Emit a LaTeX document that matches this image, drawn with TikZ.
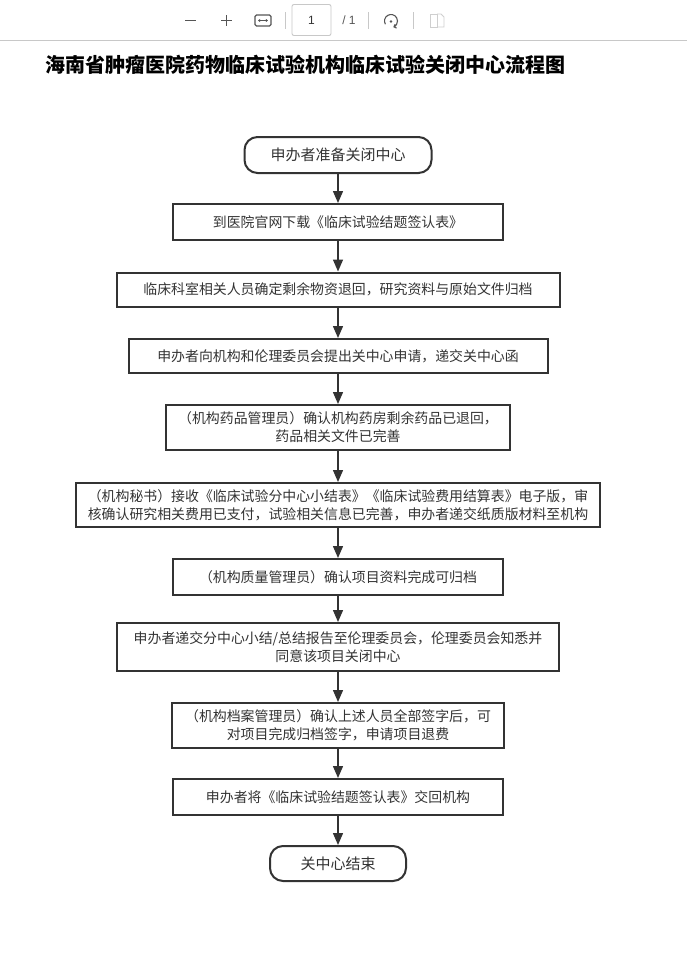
\documentclass[tikz,border=0pt]{standalone}
\usepackage{fontspec}
\newfontfamily\cjk{Noto Sans CJK SC}
\newfontfamily\ui{Liberation Sans}
\usetikzlibrary{arrows.meta}
\definecolor{ink}{HTML}{333333}
\definecolor{tbink}{HTML}{555555}
\definecolor{tbline}{HTML}{C8C8C8}
\definecolor{tbfaint}{HTML}{CFCFCF}
\begin{document}
\begin{tikzpicture}[x=1pt,y=-1pt,
  stepbox/.style={draw=ink, line width=2pt, fill=white, inner sep=0pt, align=center,
    font=\cjk\fontsize{13.9}{17.8}\selectfont, text=ink},
  termbox/.style={stepbox, rounded corners=13pt, font=\cjk\fontsize{15}{18}\selectfont},
  flow/.style={draw=ink, line width=1.4pt, -{Triangle[length=12pt,width=10pt]}},
  tb/.style={draw=tbink, line width=1.1pt},
  tbsep/.style={draw=tbline, line width=0.8pt}]
\useasboundingbox (0,0) rectangle (687,962);
\fill[white] (0,0) rectangle (687,962);

% ---- viewer toolbar ----
\draw[tbline, line width=1pt] (0,40.5) -- (687,40.5);
\draw[tb] (185,20.5) -- (196,20.5);
\draw[tb] (221,20.5) -- (232,20.5) (226.5,15) -- (226.5,26);
\draw[tb, rounded corners=1.5pt] (255,15) rectangle (271,26);
\draw[tbink, line width=0.8pt, {Triangle[length=2.2pt,width=3pt]}-{Triangle[length=2.2pt,width=3pt]}] (258,20.5) -- (268,20.5);
\draw[tbsep] (285,12) -- (285,29);
\draw[tbline, line width=0.9pt, rounded corners=2pt] (292,4.5) rectangle (331,35.5);
\node[font=\ui\fontsize{12}{12}\selectfont, text=ink, inner sep=0] (pg) at (311.5,20.5) {1};
\node[font=\ui\fontsize{12}{12}\selectfont, text=tbink, inner sep=0] (pgtot) at (349,20.5) {/ 1};
\draw[tbsep] (368,12) -- (368,29);
\draw[tb, -{Straight Barb[length=2pt,width=4pt]}] (391,21) ++(150:6.5) arc[start angle=150, end angle=430, radius=6.5];
\fill[tbink] (391,21.5) circle (1.4);
\draw[tbsep] (413,12) -- (413,29);
\draw[tbfaint, line width=0.9pt] (430,14) rectangle (437,27);
\draw[tbfaint, line width=0.9pt] (437,14) -- (441,14) -- (444,17) -- (444,27) -- (437,27);

% ---- title ----
\node[anchor=west, inner sep=0, font=\cjk\bfseries\fontsize{20}{20}\selectfont, text=black] (title) at (45,65)
  {海南省肿瘤医院药物临床试验机构临床试验关闭中心流程图};

% ---- flow ----
\node[termbox, minimum width=187pt, minimum height=36pt] (s) at (338,155) {申办者准备关闭中心};
\node[stepbox, minimum width=330pt, minimum height=36pt] (b2) at (338,222) {到医院官网下载《临床试验结题签认表》};
\node[stepbox, minimum width=443pt, minimum height=34pt] (b3) at (338,289.5) {临床科室相关人员确定剩余物资退回，研究资料与原始文件归档};
\node[stepbox, minimum width=419pt, minimum height=34pt] (b4) at (338,356) {申办者向机构和伦理委员会提出关中心申请，递交关中心函};
\node[stepbox, minimum width=344pt, minimum height=45pt] (b5) at (338,427.5) {（机构药品管理员）确认机构药房剩余药品已退回，\\药品相关文件已完善};
\node[stepbox, minimum width=524pt, minimum height=44pt] (b6) at (338,505) {（机构秘书）接收《临床试验分中心小结表》《临床试验费用结算表》电子版，审\\核确认研究相关费用已支付，试验相关信息已完善，申办者递交纸质版材料至机构};
\node[stepbox, minimum width=330pt, minimum height=36pt] (b7) at (338,577) {（机构质量管理员）确认项目资料完成可归档};
\node[stepbox, minimum width=442pt, minimum height=48pt] (b8) at (338,647) {申办者递交分中心小结/总结报告至伦理委员会，伦理委员会知悉并\\同意该项目关闭中心};
\node[stepbox, minimum width=332pt, minimum height=45pt] (b9) at (338,725.5) {（机构档案管理员）确认上述人员全部签字后，可\\对项目完成归档签字，申请项目退费};
\node[stepbox, minimum width=330pt, minimum height=36pt] (b10) at (338,797) {申办者将《临床试验结题签认表》交回机构};
\node[termbox, minimum width=136pt, minimum height=35pt] (e) at (338,863.5) {关中心结束};

\draw[flow] (s) -- (b2);
\draw[flow] (b2) -- (b3);
\draw[flow] (b3) -- (b4);
\draw[flow] (b4) -- (b5);
\draw[flow] (b5) -- (b6);
\draw[flow] (b6) -- (b7);
\draw[flow] (b7) -- (b8);
\draw[flow] (b8) -- (b9);
\draw[flow] (b9) -- (b10);
\draw[flow] (b10) -- (e);
\end{tikzpicture}
\end{document}
